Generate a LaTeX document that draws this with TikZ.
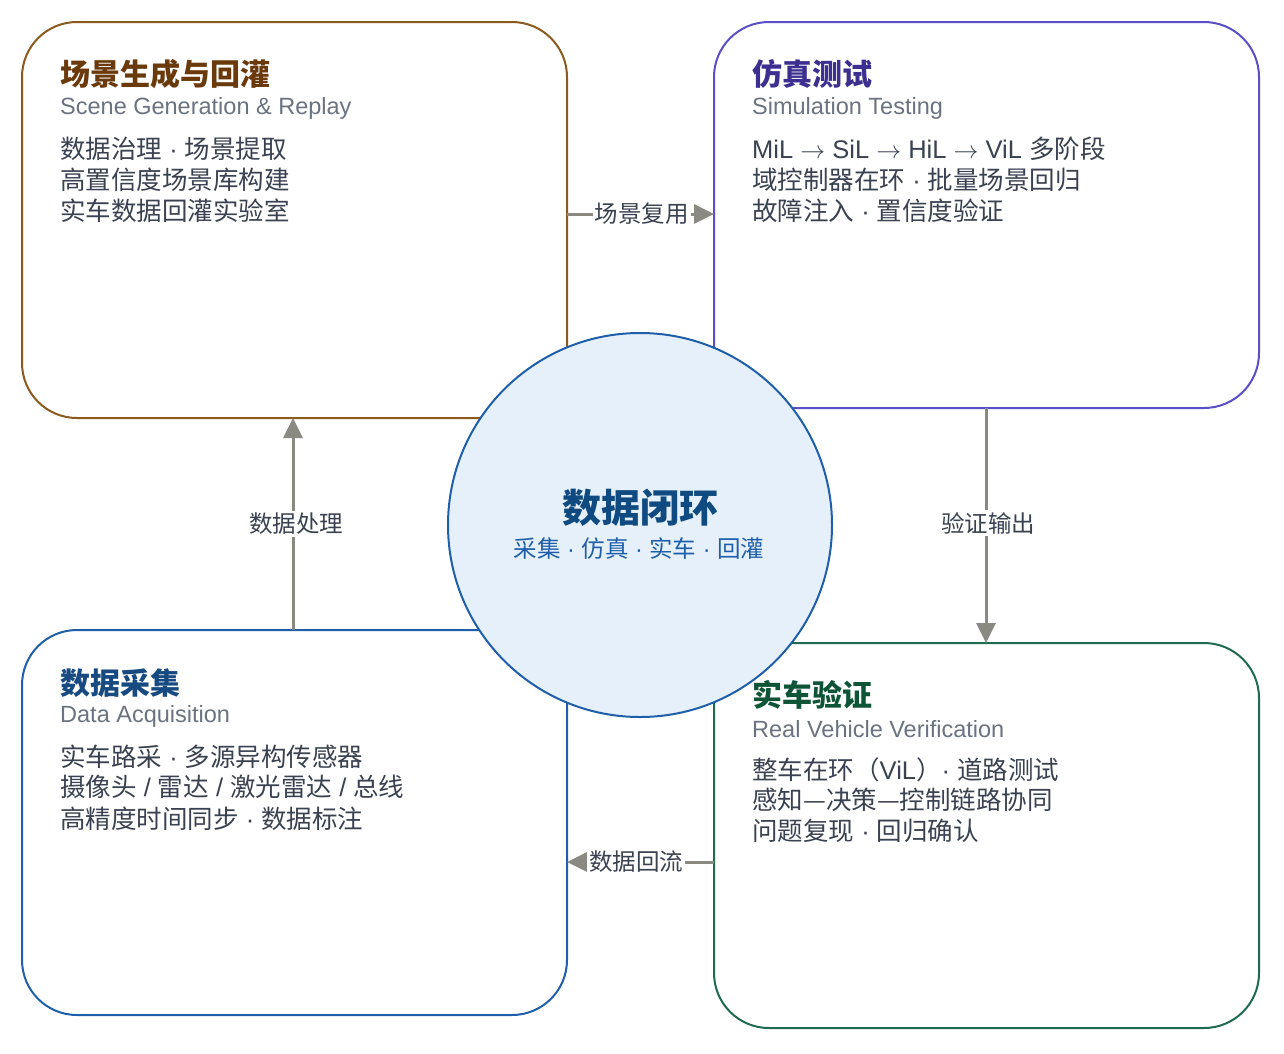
\documentclass[tikz,border=0pt]{standalone}
\usepackage{fontspec}
\setmainfont{Liberation Sans}
\newfontfamily\cjk{Noto Sans CJK SC}
\newfontfamily\lat{Liberation Sans}
\newcommand\mdot{{\lat\ ·\ }}
\newcommand\slsh{{\lat\ /\ }}
\usetikzlibrary{arrows.meta}
\definecolor{brownB}{HTML}{8B5A1E}
\definecolor{brownT}{HTML}{6B3A0C}
\definecolor{purpB}{HTML}{5B4FC8}
\definecolor{purpT}{HTML}{3D2F8F}
\definecolor{blueB}{HTML}{1F5FAA}
\definecolor{blueT}{HTML}{164A80}
\definecolor{greenB}{HTML}{1E6B50}
\definecolor{greenT}{HTML}{0E5538}
\definecolor{circF}{HTML}{E6F0FB}
\definecolor{ctrT}{HTML}{0F4A80}
\definecolor{arrC}{HTML}{8A8A82}
\definecolor{bodyC}{HTML}{3A4150}
\definecolor{subC}{HTML}{6B7280}
\tikzset{
  panel/.style={draw, line width=2pt, fill=white, rounded corners=55pt},
  ttl/.style={anchor=west, inner sep=0pt, font=\cjk\bfseries\fontsize{30}{34}\selectfont},
  sub/.style={anchor=west, inner sep=0pt, text=subC, font=\fontsize{23.5}{26}\selectfont},
  body/.style={anchor=west, inner sep=0pt, text=bodyC, font=\cjk\fontsize{25.5}{30}\selectfont},
  flow/.style={draw=arrC, line width=3pt, -{Triangle[length=20pt,width=19pt]}},
  flab/.style={fill=white, inner sep=2pt, text=bodyC, font=\cjk\fontsize{23.5}{26}\selectfont}
}
\begin{document}
\begin{tikzpicture}[x=1pt,y=-1pt]
\useasboundingbox (0,0) rectangle (1284,1053);
% panels
\draw[panel, draw=brownB] (22,22) rectangle (567,418);
\draw[panel, draw=purpB] (714,22) rectangle (1259,408);
\draw[panel, draw=blueB] (22,630) rectangle (567,1015);
\draw[panel, draw=greenB] (714,643) rectangle (1259,1028);
\coordinate (tlR) at (567,214);
\coordinate (trL) at (714,214);
\coordinate (trB) at (986,408);
\coordinate (brT) at (986,643);
\coordinate (brL) at (714,862);
\coordinate (blR) at (567,862);
\coordinate (blT) at (293,630);
\coordinate (tlB) at (293,418);
% connectors
\draw[flow] (tlR) -- node[flab, xshift=1pt] {场景复用} (trL);
\draw[flow] (trB) -- node[flab, pos=0.49, xshift=2pt] {验证输出} (brT);
\draw[flow] (brL) -- node[flab, pos=0.53] {数据回流} (blR);
\draw[flow] (blT) -- node[flab, pos=0.5, xshift=3pt] {数据处理} (tlB);
% circle
\node (hub) [circle, draw=blueB, line width=2pt, fill=circF, minimum size=384pt, inner sep=0pt] at (640,525) {};
\node (hubT) [inner sep=0pt, text=ctrT, font=\cjk\bfseries\fontsize{39}{44}\selectfont] at (640,508) {数据闭环};
\node (hubS) [inner sep=0pt, text=blueB, font=\cjk\fontsize{23.5}{26}\selectfont] at (639,548) {采集\mdot 仿真\mdot 实车\mdot 回灌};
% TL texts
\node (t1) [ttl, text=brownT] at (60,74) {场景生成与回灌};
\node (s1) [sub] at (60,108) {Scene Generation \& Replay};
\node (b1a) [body] at (60,149) {数据治理\mdot 场景提取};
\node (b1b) [body] at (60,180) {高置信度场景库构建};
\node (b1c) [body] at (60,211) {实车数据回灌实验室};
% TR texts
\node (t2) [ttl, text=purpT] at (752,74) {仿真测试};
\node (s2) [sub] at (752,108) {Simulation Testing};
\node (b2a) [body] at (752,149) {{\lat MiL $\rightarrow$ SiL $\rightarrow$ HiL $\rightarrow$ ViL }多阶段};
\node (b2b) [body] at (752,180) {域控制器在环\mdot 批量场景回归};
\node (b2c) [body] at (752,211) {故障注入\mdot 置信度验证};
% BL texts
\node (t3) [ttl, text=blueT] at (60,683) {数据采集};
\node (s3) [sub] at (60,716) {Data Acquisition};
\node (b3a) [body] at (60,757) {实车路采\mdot 多源异构传感器};
\node (b3b) [body] at (60,787) {摄像头\slsh 雷达\slsh 激光雷达\slsh 总线};
\node (b3c) [body] at (60,819) {高精度时间同步\mdot 数据标注};
% BR texts
\node (t4) [ttl, text=greenT] at (752,695) {实车验证};
\node (s4) [sub] at (752,729) {Real Vehicle Verification};
\node (b4a) [body] at (752,770) {整车在环（{\lat ViL}）{\lat·\ }道路测试};
\node (b4b) [body] at (752,800) {感知—决策—控制链路协同};
\node (b4c) [body] at (752,831) {问题复现\mdot 回归确认};
\end{tikzpicture}
\end{document}
